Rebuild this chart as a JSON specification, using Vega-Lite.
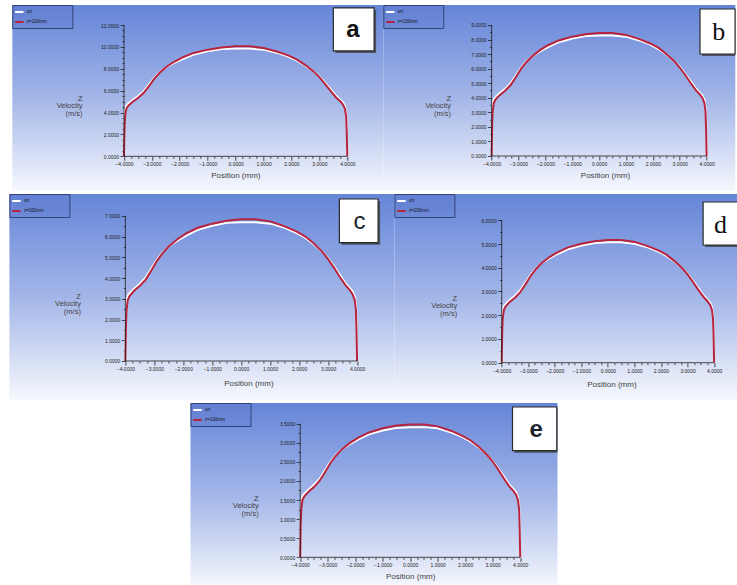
{
"$schema": "https://vega.github.io/schema/vega-lite/v6.json",
"padding": {"left": 8, "top": 4, "right": 0, "bottom": 0},
"background": "#ffffff",
"datasets": {
"pa": [
{"x":-4,"z":0,"ort":0},{"x":-3.99,"z":1.21,"ort":2.01},{"x":-3.98,"z":2.51,"ort":3.22},{"x":-3.96,"z":3.62,"ort":4.22},{"x":-3.92,"z":4.32,"ort":4.62},{"x":-3.85,"z":4.62,"ort":4.82},{"x":-3.7,"z":4.97,"ort":5.13},{"x":-3.5,"z":5.33,"ort":5.48},{"x":-3.3,"z":5.78,"ort":5.93},{"x":-3.1,"z":6.43,"ort":6.58},{"x":-2.9,"z":7.14,"ort":7.24},{"x":-2.7,"z":7.69,"ort":7.74},{"x":-2.5,"z":8.14,"ort":8.14},{"x":-2.2,"z":8.64,"ort":8.54},{"x":-1.9,"z":9.05,"ort":8.89},{"x":-1.5,"z":9.45,"ort":9.30},{"x":-1,"z":9.75,"ort":9.60},{"x":-0.5,"z":9.95,"ort":9.80},{"x":0,"z":10.05,"ort":9.85},{"x":0.5,"z":10.05,"ort":9.85},{"x":1,"z":9.90,"ort":9.75},{"x":1.5,"z":9.55,"ort":9.45},{"x":1.9,"z":9.20,"ort":9.10},{"x":2.2,"z":8.84,"ort":8.74},{"x":2.5,"z":8.34,"ort":8.29},{"x":2.8,"z":7.74,"ort":7.74},{"x":3,"z":7.24,"ort":7.29},{"x":3.2,"z":6.63,"ort":6.73},{"x":3.4,"z":5.98,"ort":6.13},{"x":3.6,"z":5.38,"ort":5.53},{"x":3.75,"z":5.03,"ort":5.18},{"x":3.85,"z":4.72,"ort":4.92},{"x":3.92,"z":4.32,"ort":4.57},{"x":3.96,"z":3.62,"ort":4.02},{"x":3.98,"z":2.21,"ort":3.02},{"x":4,"z":0,"ort":0}
],
"pb": [
{"x":-4,"z":0,"ort":0},{"x":-3.99,"z":1.01,"ort":1.69},{"x":-3.98,"z":2.11,"ort":2.70},{"x":-3.96,"z":3.04,"ort":3.55},{"x":-3.92,"z":3.63,"ort":3.89},{"x":-3.85,"z":3.89,"ort":4.06},{"x":-3.7,"z":4.18,"ort":4.31},{"x":-3.5,"z":4.48,"ort":4.61},{"x":-3.3,"z":4.86,"ort":4.99},{"x":-3.1,"z":5.41,"ort":5.53},{"x":-2.9,"z":6.00,"ort":6.08},{"x":-2.7,"z":6.46,"ort":6.51},{"x":-2.5,"z":6.84,"ort":6.84},{"x":-2.2,"z":7.27,"ort":7.18},{"x":-1.9,"z":7.61,"ort":7.48},{"x":-1.5,"z":7.94,"ort":7.82},{"x":-1,"z":8.20,"ort":8.07},{"x":-0.5,"z":8.37,"ort":8.24},{"x":0,"z":8.45,"ort":8.28},{"x":0.5,"z":8.45,"ort":8.28},{"x":1,"z":8.32,"ort":8.20},{"x":1.5,"z":8.03,"ort":7.94},{"x":1.9,"z":7.73,"ort":7.65},{"x":2.2,"z":7.44,"ort":7.35},{"x":2.5,"z":7.01,"ort":6.97},{"x":2.8,"z":6.51,"ort":6.51},{"x":3,"z":6.08,"ort":6.13},{"x":3.2,"z":5.58,"ort":5.66},{"x":3.4,"z":5.03,"ort":5.15},{"x":3.6,"z":4.52,"ort":4.65},{"x":3.75,"z":4.23,"ort":4.35},{"x":3.85,"z":3.97,"ort":4.14},{"x":3.92,"z":3.63,"ort":3.84},{"x":3.96,"z":3.04,"ort":3.38},{"x":3.98,"z":1.86,"ort":2.54},{"x":4,"z":0,"ort":0}
],
"pc": [
{"x":-4,"z":0,"ort":0},{"x":-3.99,"z":0.82,"ort":1.37},{"x":-3.98,"z":1.71,"ort":2.19},{"x":-3.96,"z":2.46,"ort":2.87},{"x":-3.92,"z":2.94,"ort":3.15},{"x":-3.85,"z":3.15,"ort":3.28},{"x":-3.7,"z":3.39,"ort":3.49},{"x":-3.5,"z":3.63,"ort":3.73},{"x":-3.3,"z":3.93,"ort":4.04},{"x":-3.1,"z":4.38,"ort":4.48},{"x":-2.9,"z":4.86,"ort":4.92},{"x":-2.7,"z":5.23,"ort":5.27},{"x":-2.5,"z":5.54,"ort":5.54},{"x":-2.2,"z":5.88,"ort":5.81},{"x":-1.9,"z":6.16,"ort":6.05},{"x":-1.5,"z":6.43,"ort":6.33},{"x":-1,"z":6.63,"ort":6.53},{"x":-0.5,"z":6.77,"ort":6.67},{"x":0,"z":6.84,"ort":6.70},{"x":0.5,"z":6.84,"ort":6.70},{"x":1,"z":6.74,"ort":6.63},{"x":1.5,"z":6.50,"ort":6.43},{"x":1.9,"z":6.26,"ort":6.19},{"x":2.2,"z":6.02,"ort":5.95},{"x":2.5,"z":5.68,"ort":5.64},{"x":2.8,"z":5.27,"ort":5.27},{"x":3,"z":4.92,"ort":4.96},{"x":3.2,"z":4.51,"ort":4.58},{"x":3.4,"z":4.07,"ort":4.17},{"x":3.6,"z":3.66,"ort":3.76},{"x":3.75,"z":3.42,"ort":3.52},{"x":3.85,"z":3.21,"ort":3.35},{"x":3.92,"z":2.94,"ort":3.11},{"x":3.96,"z":2.46,"ort":2.74},{"x":3.98,"z":1.50,"ort":2.05},{"x":4,"z":0,"ort":0}
],
"pd": [
{"x":-4,"z":0,"ort":0},{"x":-3.99,"z":0.62,"ort":1.03},{"x":-3.98,"z":1.29,"ort":1.65},{"x":-3.96,"z":1.86,"ort":2.17},{"x":-3.92,"z":2.22,"ort":2.38},{"x":-3.85,"z":2.38,"ort":2.48},{"x":-3.7,"z":2.56,"ort":2.64},{"x":-3.5,"z":2.74,"ort":2.82},{"x":-3.3,"z":2.97,"ort":3.05},{"x":-3.1,"z":3.31,"ort":3.39},{"x":-2.9,"z":3.67,"ort":3.72},{"x":-2.7,"z":3.96,"ort":3.98},{"x":-2.5,"z":4.19,"ort":4.19},{"x":-2.2,"z":4.45,"ort":4.39},{"x":-1.9,"z":4.65,"ort":4.58},{"x":-1.5,"z":4.86,"ort":4.78},{"x":-1,"z":5.01,"ort":4.94},{"x":-0.5,"z":5.12,"ort":5.04},{"x":0,"z":5.17,"ort":5.07},{"x":0.5,"z":5.17,"ort":5.07},{"x":1,"z":5.09,"ort":5.01},{"x":1.5,"z":4.91,"ort":4.86},{"x":1.9,"z":4.73,"ort":4.68},{"x":2.2,"z":4.55,"ort":4.50},{"x":2.5,"z":4.29,"ort":4.27},{"x":2.8,"z":3.98,"ort":3.98},{"x":3,"z":3.72,"ort":3.75},{"x":3.2,"z":3.41,"ort":3.46},{"x":3.4,"z":3.08,"ort":3.15},{"x":3.6,"z":2.77,"ort":2.84},{"x":3.75,"z":2.59,"ort":2.66},{"x":3.85,"z":2.43,"ort":2.53},{"x":3.92,"z":2.22,"ort":2.35},{"x":3.96,"z":1.86,"ort":2.07},{"x":3.98,"z":1.14,"ort":1.55},{"x":4,"z":0,"ort":0}
],
"pe": [
{"x":-4,"z":0,"ort":0},{"x":-3.99,"z":0.42,"ort":0.70},{"x":-3.98,"z":0.87,"ort":1.11},{"x":-3.96,"z":1.25,"ort":1.46},{"x":-3.92,"z":1.50,"ort":1.60},{"x":-3.85,"z":1.60,"ort":1.67},{"x":-3.7,"z":1.72,"ort":1.77},{"x":-3.5,"z":1.84,"ort":1.90},{"x":-3.3,"z":2.00,"ort":2.05},{"x":-3.1,"z":2.23,"ort":2.28},{"x":-2.9,"z":2.47,"ort":2.51},{"x":-2.7,"z":2.66,"ort":2.68},{"x":-2.5,"z":2.82,"ort":2.82},{"x":-2.2,"z":2.99,"ort":2.96},{"x":-1.9,"z":3.13,"ort":3.08},{"x":-1.5,"z":3.27,"ort":3.22},{"x":-1,"z":3.38,"ort":3.32},{"x":-0.5,"z":3.45,"ort":3.39},{"x":0,"z":3.48,"ort":3.41},{"x":0.5,"z":3.48,"ort":3.41},{"x":1,"z":3.43,"ort":3.38},{"x":1.5,"z":3.31,"ort":3.27},{"x":1.9,"z":3.18,"ort":3.15},{"x":2.2,"z":3.06,"ort":3.03},{"x":2.5,"z":2.89,"ort":2.87},{"x":2.8,"z":2.68,"ort":2.68},{"x":3,"z":2.51,"ort":2.52},{"x":3.2,"z":2.30,"ort":2.33},{"x":3.4,"z":2.07,"ort":2.12},{"x":3.6,"z":1.86,"ort":1.91},{"x":3.75,"z":1.74,"ort":1.79},{"x":3.85,"z":1.64,"ort":1.71},{"x":3.92,"z":1.50,"ort":1.58},{"x":3.96,"z":1.25,"ort":1.39},{"x":3.98,"z":0.77,"ort":1.04},{"x":4,"z":0,"ort":0}
]
},
"vconcat": [
{
"hconcat": [
{
"width": 371, "height": 186,
"layer": [
{"data": {"name": "pa"}, "transform": [{"fold": ["ort", "z"], "as": ["s", "v"]}],
 "mark": {"type": "line", "strokeWidth": 2},
 "encoding": {
  "x": {"field": "x", "type": "quantitative", "scale": {"domain": [-8.0, 5.29], "nice": false, "zero": false},
   "axis": {"offset": -34.7, "tickCount": 200, "labelOverlap": false, "values": [-4,-3.75,-3.5,-3.25,-3,-2.75,-2.5,-2.25,-2,-1.75,-1.5,-1.25,-1,-0.75,-0.5,-0.25,0,0.25,0.5,0.75,1,1.25,1.5,1.75,2,2.25,2.5,2.75,3,3.25,3.5,3.75,4],
    "labelExpr": "datum.value % 1 === 0 ? format(datum.value, '.4f') : ''",
    "tickSize": {"condition": {"test": "datum.value % 1 === 0", "value": 4}, "value": 2},
    "title": "Position (mm)", "titleX": 223, "titleY": 18.7}},
  "y": {"field": "v", "type": "quantitative", "scale": {"domain": [-3.17, 13.83], "nice": false, "zero": false},
   "axis": {"offset": -111.7, "tickCount": 200, "labelOverlap": false, "values": [0,0.5,1,1.5,2,2.5,3,3.5,4,4.5,5,5.5,6,6.5,7,7.5,8,8.5,9,9.5,10,10.5,11,11.5,12],
    "labelExpr": "datum.value % 2 === 0 ? format(datum.value, '.4f') : ''",
    "tickSize": {"condition": {"test": "datum.value % 2 === 0", "value": 4}, "value": 2},
    "title": ["Z", "Velocity", "(m/s)"], "titleX": -42, "titleY": 93.3}},
  "color": {"field": "s", "type": "nominal", "scale": {"domain": ["ort", "z"], "range": ["#ffffff", "#b8233d"]},
   "legend": {"title": null, "labelExpr": "(datum.label === 'z' ? 'z=100mm' : datum.label) + '⠀⠀⠀⠀⠀⠀'"}}
 }},
{"data": {"values": [{}]}, "mark": {"type": "rule", "color": "#1e1e1e", "strokeWidth": 0.8}, "encoding": {"x": {"datum": -4}, "x2": {"datum": 4}, "y": {"datum": 0}}},
{"data": {"values": [{}]}, "mark": {"type": "rule", "color": "#1e1e1e", "strokeWidth": 0.8}, "encoding": {"x": {"datum": -4}, "y": {"datum": 0}, "y2": {"datum": 12}}},
{"data": {"values": [{}]}, "mark": {"type": "rect", "color": "#3a3a3a", "opacity": 0.75}, "encoding": {"x": {"datum": 3.572}, "x2": {"datum": 5.032}, "y": {"datum": 13.38}, "y2": {"datum": 9.45}}},
{"data": {"values": [{}]}, "mark": {"type": "rect", "fill": "#ffffff", "stroke": "#2a2a2a", "strokeWidth": 1.2}, "encoding": {"x": {"datum": 3.5}, "x2": {"datum": 4.96}, "y": {"datum": 13.56}, "y2": {"datum": 9.63}}},
{"data": {"values": [{}]}, "mark": {"type": "text", "font": "Liberation Sans", "fontSize": 24, "fontWeight": "bold", "color": "#111111", "align": "center", "baseline": "middle"}, "encoding": {"x": {"datum": 4.2}, "y": {"datum": 11.5}, "text": {"value": "a"}}}
]
},
{
"width": 352, "height": 186,
"layer": [
{"data": {"name": "pb"}, "transform": [{"fold": ["ort", "z"], "as": ["s", "v"]}],
 "mark": {"type": "line", "strokeWidth": 2},
 "encoding": {
  "x": {"field": "x", "type": "quantitative", "scale": {"domain": [-8.03, 5.068], "nice": false, "zero": false},
   "axis": {"offset": -35, "tickCount": 200, "labelOverlap": false, "values": [-4,-3.75,-3.5,-3.25,-3,-2.75,-2.5,-2.25,-2,-1.75,-1.5,-1.25,-1,-0.75,-0.5,-0.25,0,0.25,0.5,0.75,1,1.25,1.5,1.75,2,2.25,2.5,2.75,3,3.25,3.5,3.75,4],
    "labelExpr": "datum.value % 1 === 0 ? format(datum.value, '.4f') : ''",
    "tickSize": {"condition": {"test": "datum.value % 1 === 0", "value": 4}, "value": 2},
    "title": "Position (mm)", "titleX": 221.7, "titleY": 19.3}},
  "y": {"field": "v", "type": "quantitative", "scale": {"domain": [-2.405, 10.374], "nice": false, "zero": false},
   "axis": {"offset": -108.3, "tickCount": 200, "labelOverlap": false, "values": [0,0.5,1,1.5,2,2.5,3,3.5,4,4.5,5,5.5,6,6.5,7,7.5,8,8.5,9],
    "labelExpr": "datum.value % 1 === 0 ? format(datum.value, '.4f') : ''",
    "tickSize": {"condition": {"test": "datum.value % 1 === 0", "value": 4}, "value": 2},
    "title": ["Z", "Velocity", "(m/s)"], "titleX": -41, "titleY": 93.3}},
  "color": {"field": "s", "type": "nominal", "scale": {"domain": ["ort", "z"], "range": ["#ffffff", "#b8233d"]},
   "legend": {"title": null, "labelExpr": "(datum.label === 'z' ? 'z=100mm' : datum.label) + '⠀⠀⠀⠀⠀⠀'"}}
 }},
{"data": {"values": [{}]}, "mark": {"type": "rule", "color": "#1e1e1e", "strokeWidth": 0.8}, "encoding": {"x": {"datum": -4}, "x2": {"datum": 4}, "y": {"datum": 0}}},
{"data": {"values": [{}]}, "mark": {"type": "rule", "color": "#1e1e1e", "strokeWidth": 0.8}, "encoding": {"x": {"datum": -4}, "y": {"datum": 0}, "y2": {"datum": 9}}},
{"data": {"values": [{}]}, "mark": {"type": "rect", "color": "#3a3a3a", "opacity": 0.75}, "encoding": {"x": {"datum": 3.828}, "x2": {"datum": 5.06}, "y": {"datum": 9.963}, "y2": {"datum": 6.871}}},
{"data": {"values": [{}]}, "mark": {"type": "rect", "fill": "#ffffff", "stroke": "#2a2a2a", "strokeWidth": 1.2}, "encoding": {"x": {"datum": 3.754}, "x2": {"datum": 5.06}, "y": {"datum": 10.1}, "y2": {"datum": 7.008}}},
{"data": {"values": [{}]}, "mark": {"type": "text", "font": "Liberation Serif", "fontSize": 26, "color": "#111111", "align": "center", "baseline": "middle"}, "encoding": {"x": {"datum": 4.45}, "y": {"datum": 8.5}, "text": {"value": "b"}}}
]
}
],
"spacing": 0, "bounds": "flush",
"resolve": {"scale": {"x": "independent", "y": "independent", "color": "independent"}, "axis": {"x": "independent", "y": "independent"}, "legend": {"color": "independent"}}
},
{
"hconcat": [
{
"width": 385, "height": 206,
"layer": [
{"data": {"name": "pc"}, "transform": [{"fold": ["ort", "z"], "as": ["s", "v"]}],
 "mark": {"type": "line", "strokeWidth": 2},
 "encoding": {
  "x": {"field": "x", "type": "quantitative", "scale": {"domain": [-8.005, 5.289], "nice": false, "zero": false},
   "axis": {"offset": -39, "tickCount": 200, "labelOverlap": false, "values": [-4,-3.75,-3.5,-3.25,-3,-2.75,-2.5,-2.25,-2,-1.75,-1.5,-1.25,-1,-0.75,-0.5,-0.25,0,0.25,0.5,0.75,1,1.25,1.5,1.75,2,2.25,2.5,2.75,3,3.25,3.5,3.75,4],
    "labelExpr": "datum.value % 1 === 0 ? format(datum.value, '.4f') : ''",
    "tickSize": {"condition": {"test": "datum.value % 1 === 0", "value": 4}, "value": 2},
    "title": "Position (mm)", "titleX": 239, "titleY": 22}},
  "y": {"field": "v", "type": "quantitative", "scale": {"domain": [-1.883, 8.062], "nice": false, "zero": false},
   "axis": {"offset": -116, "tickCount": 200, "labelOverlap": false, "values": [0,0.5,1,1.5,2,2.5,3,3.5,4,4.5,5,5.5,6,6.5,7],
    "labelExpr": "datum.value % 1 === 0 ? format(datum.value, '.4f') : ''",
    "tickSize": {"condition": {"test": "datum.value % 1 === 0", "value": 4}, "value": 2},
    "title": ["Z", "Velocity", "(m/s)"], "titleX": -45, "titleY": 102.3}},
  "color": {"field": "s", "type": "nominal", "scale": {"domain": ["ort", "z"], "range": ["#ffffff", "#b8233d"]},
   "legend": {"title": null, "labelExpr": "(datum.label === 'z' ? 'z=100mm' : datum.label) + '⠀⠀⠀⠀⠀⠀'"}}
 }},
{"data": {"values": [{}]}, "mark": {"type": "rule", "color": "#1e1e1e", "strokeWidth": 0.8}, "encoding": {"x": {"datum": -4}, "x2": {"datum": 4}, "y": {"datum": 0}}},
{"data": {"values": [{}]}, "mark": {"type": "rule", "color": "#1e1e1e", "strokeWidth": 0.8}, "encoding": {"x": {"datum": -4}, "y": {"datum": 0}, "y2": {"datum": 7}}},
{"data": {"values": [{}]}, "mark": {"type": "rect", "color": "#3a3a3a", "opacity": 0.75}, "encoding": {"x": {"datum": 3.459}, "x2": {"datum": 4.795}, "y": {"datum": 7.723}, "y2": {"datum": 5.614}}},
{"data": {"values": [{}]}, "mark": {"type": "rect", "fill": "#ffffff", "stroke": "#2a2a2a", "strokeWidth": 1.2}, "encoding": {"x": {"datum": 3.39}, "x2": {"datum": 4.726}, "y": {"datum": 7.82}, "y2": {"datum": 5.711}}},
{"data": {"values": [{}]}, "mark": {"type": "text", "font": "Liberation Sans", "fontSize": 24, "color": "#1a2530", "align": "center", "baseline": "middle"}, "encoding": {"x": {"datum": 4.08}, "y": {"datum": 6.7}, "text": {"value": "c"}}}
]
},
{
"width": 344, "height": 206,
"layer": [
{"data": {"name": "pd"}, "transform": [{"fold": ["ort", "z"], "as": ["s", "v"]}],
 "mark": {"type": "line", "strokeWidth": 2},
 "encoding": {
  "x": {"field": "x", "type": "quantitative", "scale": {"domain": [-8.041, 4.915], "nice": false, "zero": false},
   "axis": {"offset": -37.3, "tickCount": 200, "labelOverlap": false, "values": [-4,-3.75,-3.5,-3.25,-3,-2.75,-2.5,-2.25,-2,-1.75,-1.5,-1.25,-1,-0.75,-0.5,-0.25,0,0.25,0.5,0.75,1,1.25,1.5,1.75,2,2.25,2.5,2.75,3,3.25,3.5,3.75,4],
    "labelExpr": "datum.value % 1 === 0 ? format(datum.value, '.4f') : ''",
    "tickSize": {"condition": {"test": "datum.value % 1 === 0", "value": 4}, "value": 2},
    "title": "Position (mm)", "titleX": 217, "titleY": 21.6}},
  "y": {"field": "v", "type": "quantitative", "scale": {"domain": [-1.572, 7.108], "nice": false, "zero": false},
   "axis": {"offset": -107.3, "tickCount": 200, "labelOverlap": false, "values": [0,0.5,1,1.5,2,2.5,3,3.5,4,4.5,5,5.5,6],
    "labelExpr": "datum.value % 1 === 0 ? format(datum.value, '.4f') : ''",
    "tickSize": {"condition": {"test": "datum.value % 1 === 0", "value": 4}, "value": 2},
    "title": ["Z", "Velocity", "(m/s)"], "titleX": -45, "titleY": 104}},
  "color": {"field": "s", "type": "nominal", "scale": {"domain": ["ort", "z"], "range": ["#ffffff", "#b8233d"]},
   "legend": {"title": null, "labelExpr": "(datum.label === 'z' ? 'z=100mm' : datum.label) + '⠀⠀⠀⠀⠀⠀'"}}
 }},
{"data": {"values": [{}]}, "mark": {"type": "rule", "color": "#1e1e1e", "strokeWidth": 0.8}, "encoding": {"x": {"datum": -4}, "x2": {"datum": 4}, "y": {"datum": 0}}},
{"data": {"values": [{}]}, "mark": {"type": "rule", "color": "#1e1e1e", "strokeWidth": 0.8}, "encoding": {"x": {"datum": -4}, "y": {"datum": 0}, "y2": {"datum": 6}}},
{"data": {"values": [{}]}, "mark": {"type": "rect", "color": "#3a3a3a", "opacity": 0.75}, "encoding": {"x": {"datum": 3.661}, "x2": {"datum": 4.9}, "y": {"datum": 6.687}, "y2": {"datum": 4.875}}},
{"data": {"values": [{}]}, "mark": {"type": "rect", "fill": "#ffffff", "stroke": "#2a2a2a", "strokeWidth": 1.2}, "encoding": {"x": {"datum": 3.586}, "x2": {"datum": 4.9}, "y": {"datum": 6.771}, "y2": {"datum": 4.959}}},
{"data": {"values": [{}]}, "mark": {"type": "text", "font": "Liberation Serif", "fontSize": 26, "color": "#111111", "align": "center", "baseline": "middle"}, "encoding": {"x": {"datum": 4.24}, "y": {"datum": 5.8}, "text": {"value": "d"}}}
]
}
],
"spacing": 0, "bounds": "flush",
"resolve": {"scale": {"x": "independent", "y": "independent", "color": "independent"}, "axis": {"x": "independent", "y": "independent"}, "legend": {"color": "independent"}}
},
{
"width": 367, "height": 185,
"layer": [
{"data": {"name": "pe"}, "transform": [{"fold": ["ort", "z"], "as": ["s", "v"]}],
 "mark": {"type": "line", "strokeWidth": 2},
 "encoding": {
  "x": {"field": "x", "type": "quantitative", "scale": {"domain": [-7.989, 5.356], "nice": false, "zero": false},
   "axis": {"offset": -30.7, "tickCount": 200, "labelOverlap": false, "values": [-4,-3.75,-3.5,-3.25,-3,-2.75,-2.5,-2.25,-2,-1.75,-1.5,-1.25,-1,-0.75,-0.5,-0.25,0,0.25,0.5,0.75,1,1.25,1.5,1.75,2,2.25,2.5,2.75,3,3.25,3.5,3.75,4],
    "labelExpr": "datum.value % 1 === 0 ? format(datum.value, '.4f') : ''",
    "tickSize": {"condition": {"test": "datum.value % 1 === 0", "value": 4}, "value": 2},
    "title": "Position (mm)", "titleX": 219.7, "titleY": 19}},
  "y": {"field": "v", "type": "quantitative", "scale": {"domain": [-0.804, 4.042], "nice": false, "zero": false},
   "axis": {"offset": -109.7, "tickCount": 200, "labelOverlap": false, "values": [0,0.25,0.5,0.75,1,1.25,1.5,1.75,2,2.25,2.5,2.75,3,3.25,3.5],
    "labelExpr": "datum.value % 0.5 === 0 ? format(datum.value, '.4f') : ''",
    "tickSize": {"condition": {"test": "datum.value % 0.5 === 0", "value": 4}, "value": 2},
    "title": ["Z", "Velocity", "(m/s)"], "titleX": -42, "titleY": 95}},
  "color": {"field": "s", "type": "nominal", "scale": {"domain": ["ort", "z"], "range": ["#ffffff", "#b8233d"]},
   "legend": {"title": null, "labelExpr": "(datum.label === 'z' ? 'z=100mm' : datum.label) + '⠀⠀⠀⠀⠀⠀'"}}
 }},
{"data": {"values": [{}]}, "mark": {"type": "rule", "color": "#1e1e1e", "strokeWidth": 0.8}, "encoding": {"x": {"datum": -4}, "x2": {"datum": 4}, "y": {"datum": 0}}},
{"data": {"values": [{}]}, "mark": {"type": "rule", "color": "#1e1e1e", "strokeWidth": 0.8}, "encoding": {"x": {"datum": -4}, "y": {"datum": 0}, "y2": {"datum": 3.5}}},
{"data": {"values": [{}]}, "mark": {"type": "rect", "color": "#3a3a3a", "opacity": 0.75}, "encoding": {"x": {"datum": 3.793}, "x2": {"datum": 5.35}, "y": {"datum": 3.885}, "y2": {"datum": 2.74}}},
{"data": {"values": [{}]}, "mark": {"type": "rect", "fill": "#ffffff", "stroke": "#2a2a2a", "strokeWidth": 1.2}, "encoding": {"x": {"datum": 3.72}, "x2": {"datum": 5.33}, "y": {"datum": 3.937}, "y2": {"datum": 2.792}}},
{"data": {"values": [{}]}, "mark": {"type": "text", "font": "Liberation Sans", "fontSize": 24, "fontWeight": "bold", "color": "#1a2530", "align": "center", "baseline": "middle"}, "encoding": {"x": {"datum": 4.58}, "y": {"datum": 3.33}, "text": {"value": "e"}}}
]
}
],
"spacing": 2, "center": true,
"resolve": {"scale": {"x": "independent", "y": "independent", "color": "independent"}, "axis": {"x": "independent", "y": "independent"}, "legend": {"color": "independent"}},
"config": {
 "view": {"stroke": null, "fill": {"gradient": "linear", "x1": 0, "y1": 0, "x2": 0, "y2": 1, "stops": [{"offset": 0, "color": "#6585d8"}, {"offset": 0.5, "color": "#a3b6e8"}, {"offset": 1, "color": "#f6f8fd"}]}},
 "axis": {"domain": false, "grid": false, "tickColor": "#1e1e1e", "tickWidth": 0.8, "labelFont": "Liberation Sans", "labelFontSize": 5, "labelColor": "#222222", "labelPadding": 1.5, "labelOverlap": false, "labelFlush": false, "labelBound": false, "titleFont": "Liberation Sans", "titleFontWeight": "normal", "titleColor": "#444444"},
 "axisX": {"titleFontSize": 8, "titleBaseline": "middle", "titleAlign": "center"},
 "axisY": {"titleFontSize": 7.5, "titleAngle": 0, "titleAlign": "right", "titleBaseline": "middle", "titleLineHeight": 7.5},
 "legend": {"orient": "top-left", "offset": 0, "symbolType": "stroke", "symbolStrokeWidth": 2, "symbolSize": 72, "symbolOpacity": 1, "labelFont": "Liberation Sans", "labelFontSize": 4.5, "labelColor": "#111111", "labelOffset": 2, "strokeColor": "#33427a", "fillColor": "rgba(90,115,200,0.25)", "padding": 1.5, "rowPadding": 0, "labelLimit": 200}
}
}
